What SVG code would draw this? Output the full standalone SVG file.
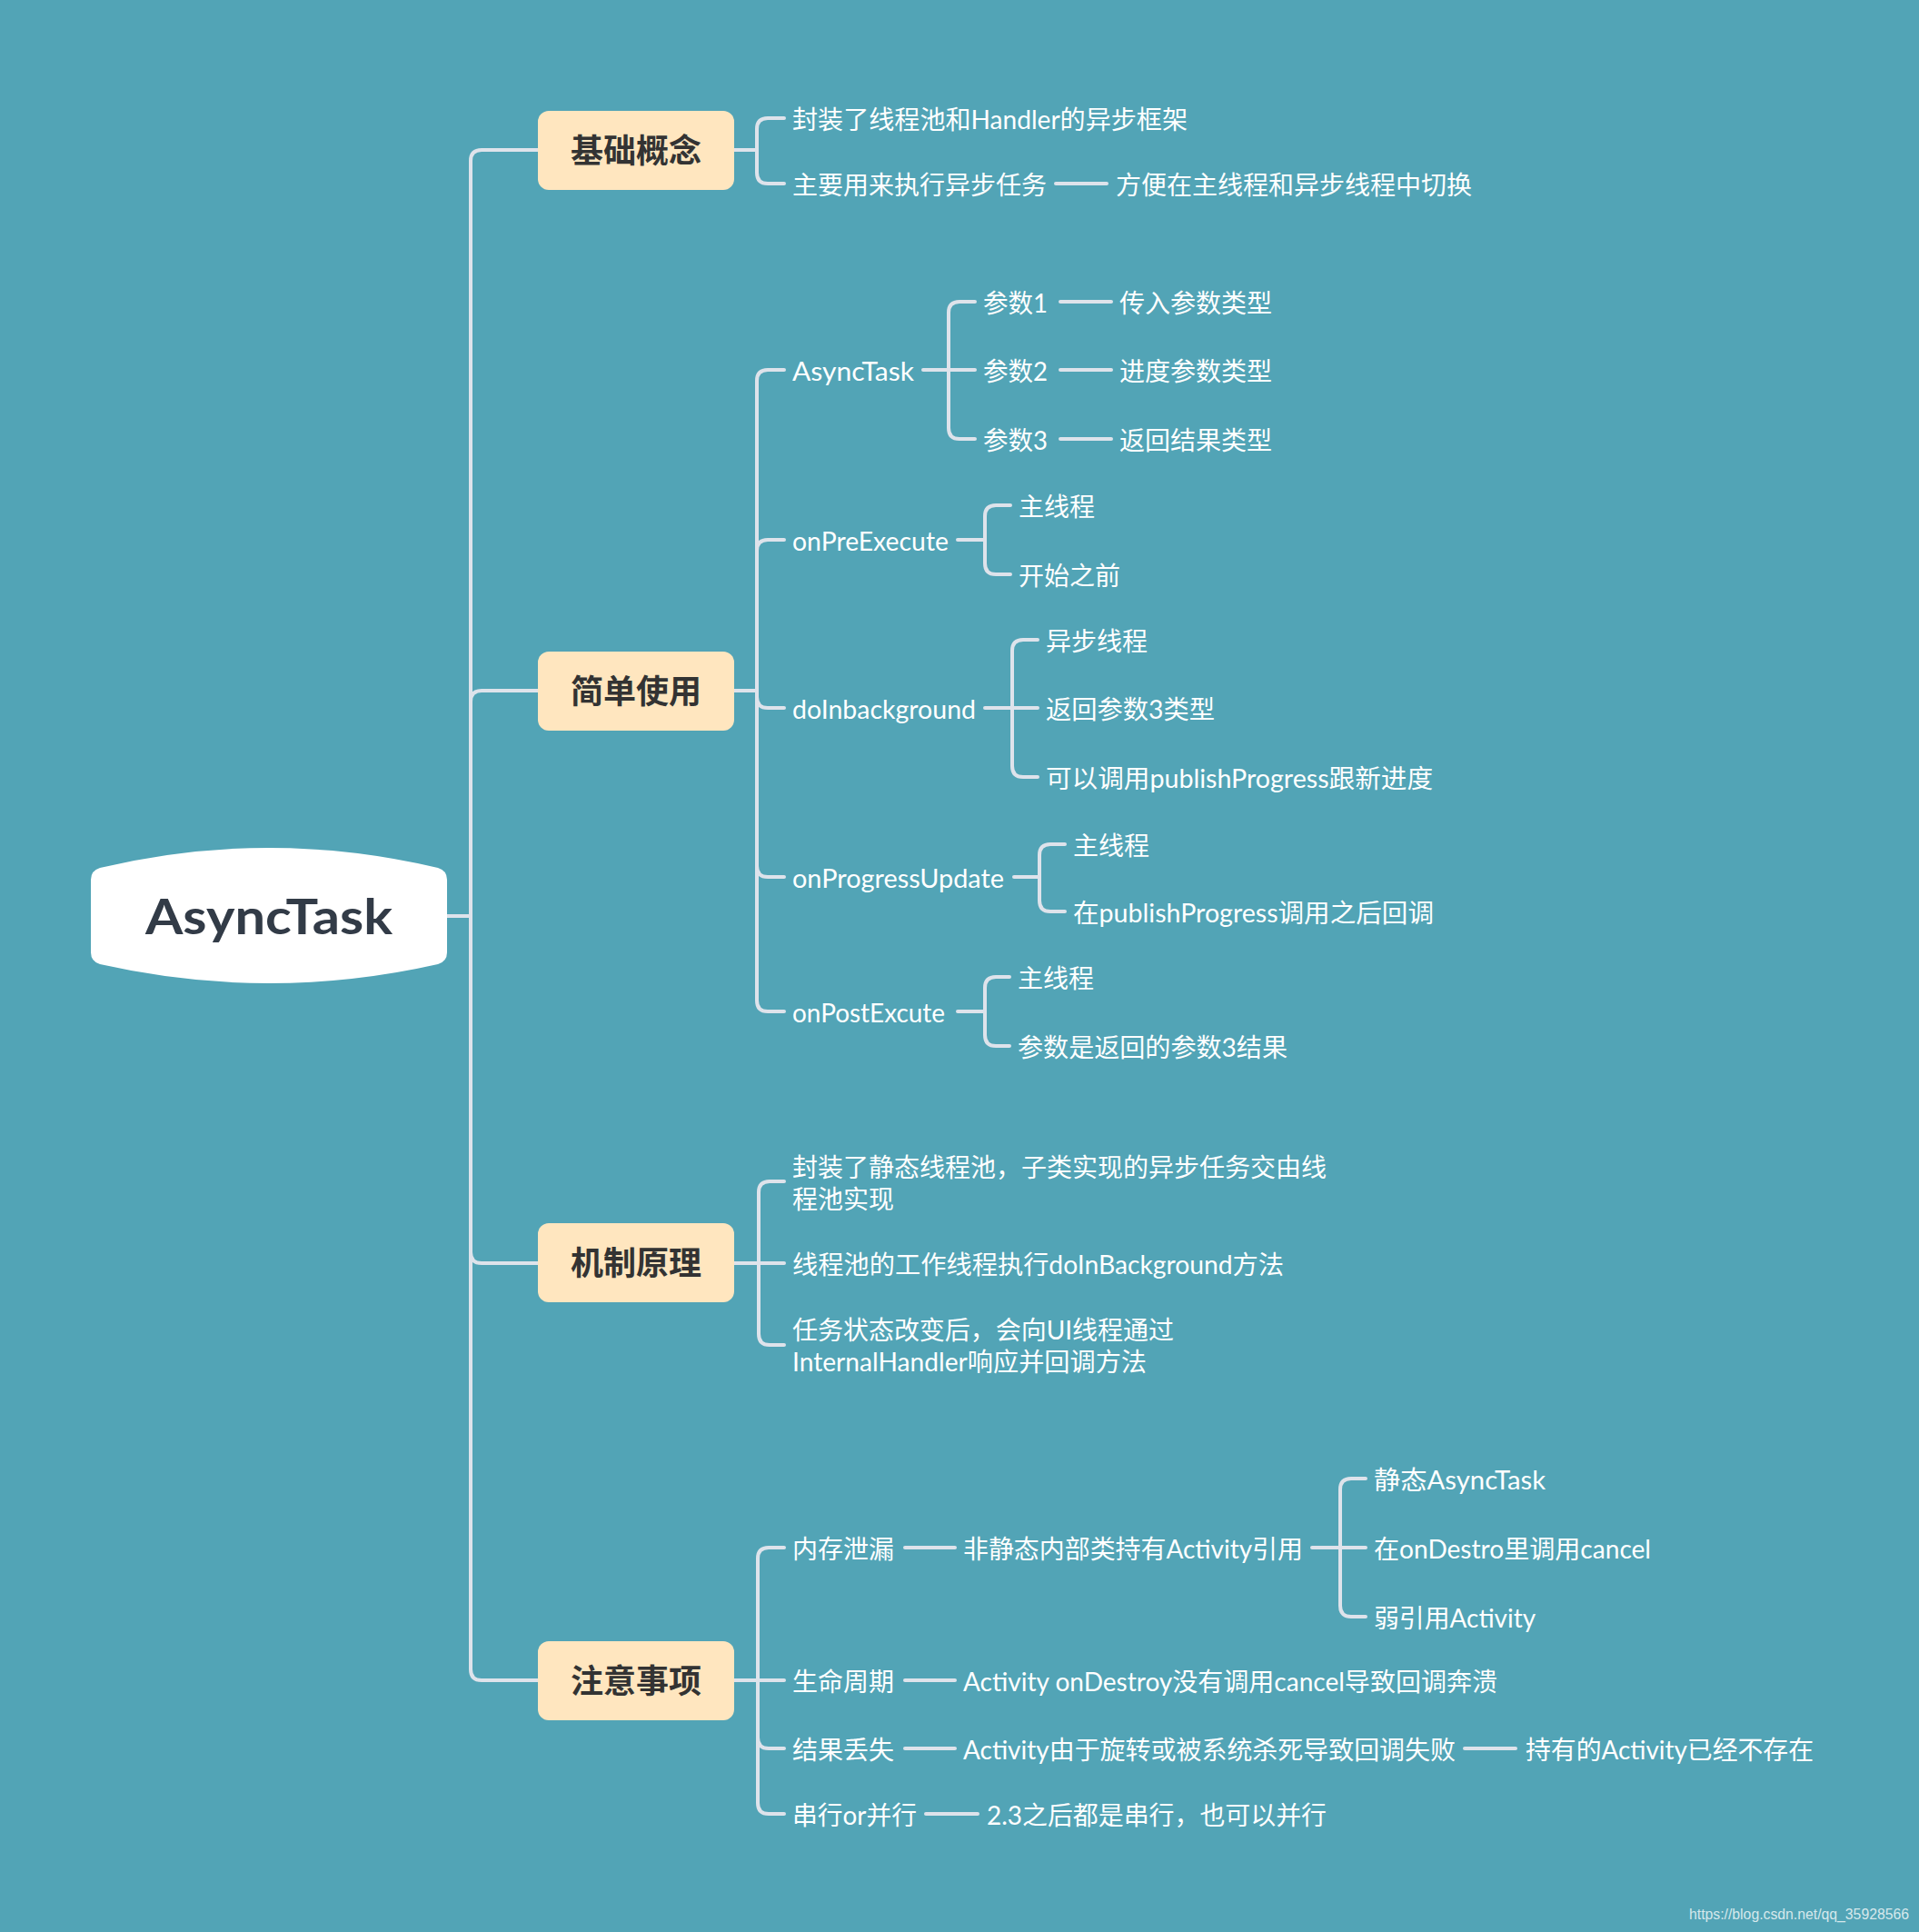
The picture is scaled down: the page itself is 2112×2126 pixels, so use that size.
<svg xmlns="http://www.w3.org/2000/svg" width="2112" height="2126" viewBox="0 0 2112 2126">
<style>
.bg{fill:#52A4B6}
.ln{fill:none;stroke:#DEE3EB;stroke-width:4;stroke-linecap:round;stroke-linejoin:round}
.t{font-family:Lato,"Noto Sans CJK SC",sans-serif;font-size:28px;fill:#FFFFFF}
.box{fill:#FFE6BF}
.bt{font-family:"Noto Sans CJK SC",sans-serif;font-size:36px;font-weight:bold;fill:#333333;text-anchor:middle}
.rt{font-family:Lato,"Noto Sans",sans-serif;font-size:54px;font-weight:bold;fill:#323B47}
.wm{font-family:"Liberation Sans",Arial,sans-serif;font-size:16px;fill:#D6E8EC}
</style>
<rect class="bg" x="0" y="0" width="2112" height="2126"/>

<g id="connectors">
  <path class="ln" d="M492,1008 H518"/>
  <path class="ln" d="M518,1008 V177 Q518,165 530,165 H592"/>
  <path class="ln" d="M518,1008 V772 Q518,760 530,760 H592"/>
  <path class="ln" d="M518,1008 V1378 Q518,1390 530,1390 H592"/>
  <path class="ln" d="M518,1008 V1837 Q518,1849 530,1849 H592"/>
  <path class="ln" d="M808,165 H833"/>
  <path class="ln" d="M833,165 V142 Q833,130 845,130 H863"/>
  <path class="ln" d="M833,165 V190 Q833,202 845,202 H863"/>
  <path class="ln" d="M1162,202 H1218"/>
  <path class="ln" d="M808,760 H833"/>
  <path class="ln" d="M833,760 V419 Q833,407 845,407 H863"/>
  <path class="ln" d="M833,760 V606 Q833,594 845,594 H863"/>
  <path class="ln" d="M833,760 V767 Q833,779 845,779 H863"/>
  <path class="ln" d="M833,760 V953 Q833,965 845,965 H863"/>
  <path class="ln" d="M833,760 V1101 Q833,1113 845,1113 H863"/>
  <path class="ln" d="M1016,407 H1073"/>
  <path class="ln" d="M1044,407 V344 Q1044,332 1056,332 H1073"/>
  <path class="ln" d="M1044,407 V471 Q1044,483 1056,483 H1073"/>
  <path class="ln" d="M1167,332 H1223"/>
  <path class="ln" d="M1167,407 H1223"/>
  <path class="ln" d="M1167,483 H1223"/>
  <path class="ln" d="M1054,594 H1084"/>
  <path class="ln" d="M1084,594 V568 Q1084,556 1096,556 H1112"/>
  <path class="ln" d="M1084,594 V620 Q1084,632 1096,632 H1112"/>
  <path class="ln" d="M1084,779 H1142"/>
  <path class="ln" d="M1114,779 V716 Q1114,704 1126,704 H1142"/>
  <path class="ln" d="M1114,779 V843 Q1114,855 1126,855 H1142"/>
  <path class="ln" d="M1116,965 H1144"/>
  <path class="ln" d="M1144,965 V941 Q1144,929 1156,929 H1172"/>
  <path class="ln" d="M1144,965 V991 Q1144,1003 1156,1003 H1172"/>
  <path class="ln" d="M1054,1113 H1084"/>
  <path class="ln" d="M1084,1113 V1087 Q1084,1075 1096,1075 H1111"/>
  <path class="ln" d="M1084,1113 V1139 Q1084,1151 1096,1151 H1111"/>
  <path class="ln" d="M808,1390 H863"/>
  <path class="ln" d="M835,1390 V1312 Q835,1300 847,1300 H863"/>
  <path class="ln" d="M835,1390 V1468 Q835,1480 847,1480 H863"/>
  <path class="ln" d="M808,1849 H863"/>
  <path class="ln" d="M834,1849 V1715 Q834,1703 846,1703 H863"/>
  <path class="ln" d="M834,1849 V1912 Q834,1924 846,1924 H863"/>
  <path class="ln" d="M834,1849 V1984 Q834,1996 846,1996 H863"/>
  <path class="ln" d="M996,1703 H1051"/>
  <path class="ln" d="M996,1849 H1051"/>
  <path class="ln" d="M996,1924 H1051"/>
  <path class="ln" d="M1612,1924 H1668"/>
  <path class="ln" d="M1019,1996 H1076"/>
  <path class="ln" d="M1444,1703 H1503"/>
  <path class="ln" d="M1475,1703 V1639 Q1475,1627 1487,1627 H1503"/>
  <path class="ln" d="M1475,1703 V1767 Q1475,1779 1487,1779 H1503"/>
</g>

<g id="root">
  <path d="M100,968 Q100,958 110,955 Q296,911 482,955 Q492,958 492,968 L492,1048 Q492,1058 482,1061 Q296,1103 110,1061 Q100,1058 100,1048 Z" fill="#FFFFFF"/>
  <text class="rt" x="160" y="1028" textLength="272" lengthAdjust="spacingAndGlyphs">AsyncTask</text>
</g>

<g id="b1">
  <rect class="box" x="592" y="122" width="216" height="87" rx="12"/>
  <text class="bt" x="700" y="179">基础概念</text>
</g>
<g id="b2">
  <rect class="box" x="592" y="717" width="216" height="87" rx="12"/>
  <text class="bt" x="700" y="774">简单使用</text>
</g>
<g id="b3">
  <rect class="box" x="592" y="1346" width="216" height="87" rx="12"/>
  <text class="bt" x="700" y="1403">机制原理</text>
</g>
<g id="b4">
  <rect class="box" x="592" y="1806" width="216" height="87" rx="12"/>
  <text class="bt" x="700" y="1863">注意事项</text>
</g>

<g id="n-b1">
  <text class="t" x="872" y="142" textLength="435" lengthAdjust="spacingAndGlyphs">封装了线程池和Handler的异步框架</text>
  <text class="t" x="872" y="214">主要用来执行异步任务</text>
  <text class="t" x="1228" y="214">方便在主线程和异步线程中切换</text>
</g>

<g id="n-asynctask">
  <text class="t" x="872" y="419" textLength="134" lengthAdjust="spacingAndGlyphs">AsyncTask</text>
  <text class="t" x="1082" y="344" textLength="71" lengthAdjust="spacingAndGlyphs">参数1</text>
  <text class="t" x="1082" y="419" textLength="71" lengthAdjust="spacingAndGlyphs">参数2</text>
  <text class="t" x="1082" y="495" textLength="71" lengthAdjust="spacingAndGlyphs">参数3</text>
  <text class="t" x="1232" y="344">传入参数类型</text>
  <text class="t" x="1232" y="419">进度参数类型</text>
  <text class="t" x="1232" y="495">返回结果类型</text>
</g>

<g id="n-onpreexecute">
  <text class="t" x="872" y="606" textLength="172" lengthAdjust="spacingAndGlyphs">onPreExecute</text>
  <text class="t" x="1121" y="568">主线程</text>
  <text class="t" x="1121" y="644">开始之前</text>
</g>

<g id="n-doinbackground">
  <text class="t" x="872" y="791" textLength="202" lengthAdjust="spacingAndGlyphs">doInbackground</text>
  <text class="t" x="1151" y="716">异步线程</text>
  <text class="t" x="1151" y="791" textLength="186" lengthAdjust="spacingAndGlyphs">返回参数3类型</text>
  <text class="t" x="1151" y="867" textLength="426" lengthAdjust="spacingAndGlyphs">可以调用publishProgress跟新进度</text>
</g>

<g id="n-onprogressupdate">
  <text class="t" x="872" y="977" textLength="233" lengthAdjust="spacingAndGlyphs">onProgressUpdate</text>
  <text class="t" x="1181" y="941">主线程</text>
  <text class="t" x="1181" y="1015" textLength="397" lengthAdjust="spacingAndGlyphs">在publishProgress调用之后回调</text>
</g>

<g id="n-onpostexcute">
  <text class="t" x="872" y="1125" textLength="168" lengthAdjust="spacingAndGlyphs">onPostExcute</text>
  <text class="t" x="1120" y="1087">主线程</text>
  <text class="t" x="1120" y="1163" textLength="297" lengthAdjust="spacingAndGlyphs">参数是返回的参数3结果</text>
</g>

<g id="n-b3">
  <text class="t" x="872" y="1295">封装了静态线程池，子类实现的异步任务交由线</text>
  <text class="t" x="872" y="1330">程池实现</text>
  <text class="t" x="872" y="1402" textLength="541" lengthAdjust="spacingAndGlyphs">线程池的工作线程执行doInBackground方法</text>
  <text class="t" x="872" y="1474" textLength="420" lengthAdjust="spacingAndGlyphs">任务状态改变后，会向UI线程通过</text>
  <text class="t" x="872" y="1509" textLength="390" lengthAdjust="spacingAndGlyphs">InternalHandler响应并回调方法</text>
</g>

<g id="n-b4">
  <text class="t" x="872" y="1715">内存泄漏</text>
  <text class="t" x="1060" y="1715" textLength="374" lengthAdjust="spacingAndGlyphs">非静态内部类持有Activity引用</text>
  <text class="t" x="1512" y="1639" textLength="189" lengthAdjust="spacingAndGlyphs">静态AsyncTask</text>
  <text class="t" x="1512" y="1715" textLength="305" lengthAdjust="spacingAndGlyphs">在onDestro里调用cancel</text>
  <text class="t" x="1512" y="1791" textLength="178" lengthAdjust="spacingAndGlyphs">弱引用Activity</text>
  <text class="t" x="872" y="1861">生命周期</text>
  <text class="t" x="1060" y="1861" textLength="588" lengthAdjust="spacingAndGlyphs">Activity onDestroy没有调用cancel导致回调奔溃</text>
  <text class="t" x="872" y="1936">结果丢失</text>
  <text class="t" x="1060" y="1936" textLength="542" lengthAdjust="spacingAndGlyphs">Activity由于旋转或被系统杀死导致回调失败</text>
  <text class="t" x="1679" y="1936" textLength="317" lengthAdjust="spacingAndGlyphs">持有的Activity已经不存在</text>
  <text class="t" x="872" y="2008" textLength="137" lengthAdjust="spacingAndGlyphs">串行or并行</text>
  <text class="t" x="1086" y="2008" textLength="374" lengthAdjust="spacingAndGlyphs">2.3之后都是串行，也可以并行</text>
</g>

<text class="wm" x="1859" y="2112" textLength="242" lengthAdjust="spacingAndGlyphs">https://blog.csdn.net/qq_35928566</text>
</svg>
